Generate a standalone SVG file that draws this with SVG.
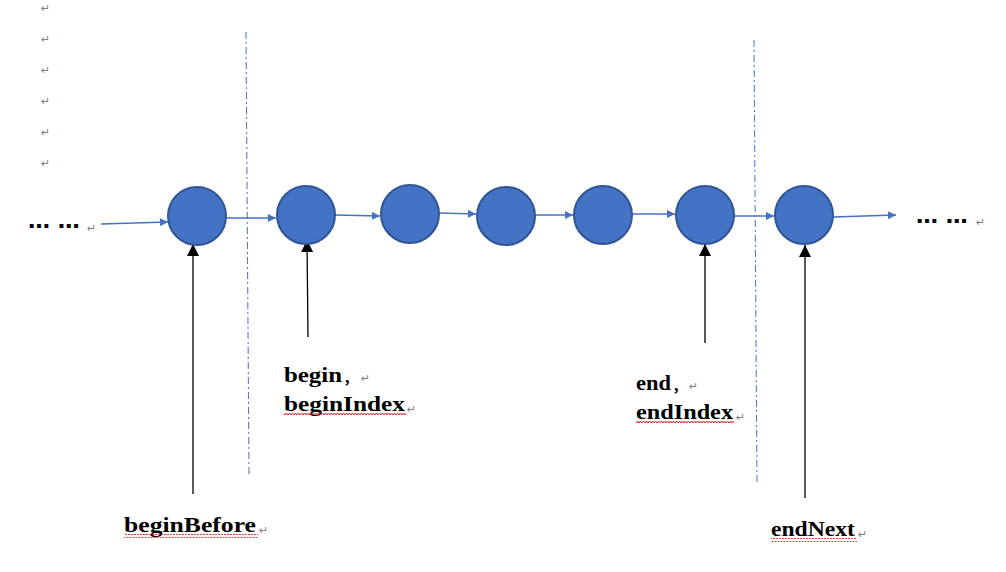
<svg xmlns="http://www.w3.org/2000/svg" width="1006" height="572" viewBox="0 0 1006 572">
<style>
.node{fill:#4472C4;stroke:#2F5597;stroke-width:2}
.link{stroke:#4472C4;stroke-width:1.5;fill:none;marker-end:url(#bh)}
.ptr{stroke:#000;stroke-width:1.3;fill:none;marker-end:url(#kh)}
.sep{stroke:#4472C4;stroke-width:1;stroke-dasharray:7 3 2 3;fill:none}
.lbl{font-family:"Liberation Serif","Noto Sans CJK SC",serif;font-size:21px;fill:#000;font-weight:bold}
.cm{font-family:"Noto Sans CJK SC",sans-serif;font-size:15px;fill:#000;font-weight:bold}
.pm{font-family:"DejaVu Sans",sans-serif;font-size:11px;fill:#808080}
.dots{font-family:"DejaVu Sans",sans-serif;font-size:22px;font-weight:bold;fill:#000}
</style>
<defs>
<marker id="bh" viewBox="0 0 10 10" refX="10" refY="5" markerWidth="8" markerHeight="8" markerUnits="userSpaceOnUse" orient="auto"><path d="M0,0 L10,5 L0,10 Z" fill="#4472C4"/></marker>
<marker id="kh" viewBox="0 0 10 10" refX="10" refY="5" markerWidth="12" markerHeight="12" markerUnits="userSpaceOnUse" orient="auto"><path d="M0,0 L10,5 L0,10 Z" fill="#000"/></marker>
<pattern id="wv" width="6" height="4" patternUnits="userSpaceOnUse"><path d="M0,3 L1.5,1 L3,3 L4.5,1 L6,3" stroke="#E02020" stroke-width="1" fill="none"/></pattern>
</defs>

<g id="paragraph-marks">
<text class="pm" x="41" y="12">↵</text>
<text class="pm" x="41" y="43">↵</text>
<text class="pm" x="41" y="74">↵</text>
<text class="pm" x="41" y="105">↵</text>
<text class="pm" x="41" y="136">↵</text>
<text class="pm" x="41" y="167">↵</text>
</g>

<g id="separators">
<path class="sep" d="M246,32 L249,476"/>
<path class="sep" d="M754,40 L757,485"/>
</g>

<g id="connectors">
<path class="link" d="M101,224 L168,222"/>
<path class="link" d="M226,218 L276,218"/>
<path class="link" d="M335,215 L380,216"/>
<path class="link" d="M439,213 L476,214"/>
<path class="link" d="M535,215 L573,215"/>
<path class="link" d="M632,214 L675,214"/>
<path class="link" d="M734,216 L774,216"/>
<path class="link" d="M833,217 L896,215"/>
<path class="ptr" d="M193,494 L193,244"/>
<path class="ptr" d="M308,337 L307,240"/>
<path class="ptr" d="M705,343 L705,244"/>
<path class="ptr" d="M805,498 L805,245"/>
</g>

<g id="ellipsis-left">
<text class="dots" x="28" y="228">… …</text>
<text class="pm" x="87" y="232">↵</text>
</g>
<g id="ellipsis-right">
<text class="dots" x="916" y="223">… …</text>
<text class="pm" x="976" y="226">↵</text>
</g>

<g id="node1"><circle class="node" cx="197" cy="216" r="29"/></g>
<g id="node2"><circle class="node" cx="306" cy="215" r="29"/></g>
<g id="node3"><circle class="node" cx="410" cy="214" r="29"/></g>
<g id="node4"><circle class="node" cx="506" cy="216" r="29"/></g>
<g id="node5"><circle class="node" cx="603" cy="215" r="29"/></g>
<g id="node6"><circle class="node" cx="705" cy="215" r="29"/></g>
<g id="node7"><circle class="node" cx="804" cy="215" r="29"/></g>

<g id="label-begin">
<text class="lbl" x="284" y="382" textLength="58" lengthAdjust="spacingAndGlyphs">begin</text>
<text class="cm" x="343" y="383">，</text>
<text class="pm" x="361" y="382">↵</text>
<text class="lbl" x="284" y="411" textLength="121" lengthAdjust="spacingAndGlyphs">beginIndex</text>
<text class="pm" x="407" y="413">↵</text>
<rect x="284" y="413" width="122" height="4" fill="url(#wv)"/>
</g>
<g id="label-end">
<text class="lbl" x="636" y="390" textLength="35" lengthAdjust="spacingAndGlyphs">end</text>
<text class="cm" x="672" y="391">，</text>
<text class="pm" x="689" y="390">↵</text>
<text class="lbl" x="636" y="419" textLength="97" lengthAdjust="spacingAndGlyphs">endIndex</text>
<text class="pm" x="736" y="421">↵</text>
<rect x="636" y="421" width="98" height="4" fill="url(#wv)"/>
</g>
<g id="label-beginBefore">
<text class="lbl" x="124" y="532" textLength="132" lengthAdjust="spacingAndGlyphs">beginBefore</text>
<text class="pm" x="259" y="534">↵</text>
<rect x="124" y="534" width="134" height="4" fill="url(#wv)"/>
</g>
<g id="label-endNext">
<text class="lbl" x="771" y="536" textLength="84" lengthAdjust="spacingAndGlyphs">endNext</text>
<text class="pm" x="858" y="538">↵</text>
<rect x="771" y="538" width="86" height="4" fill="url(#wv)"/>
</g>
</svg>
